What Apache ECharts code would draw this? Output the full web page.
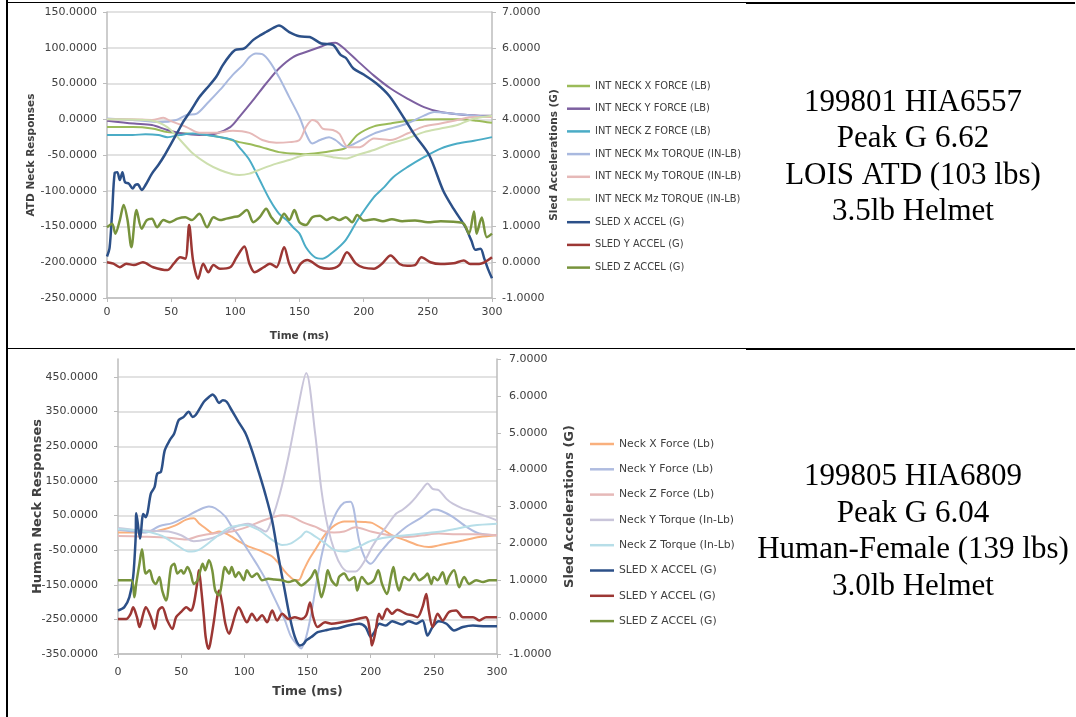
<!DOCTYPE html>
<html>
<head>
<meta charset="utf-8">
<script src="https://cdn.jsdelivr.net/npm/echarts@6/dist/echarts.min.js"></script>
<style>
  html, body { margin: 0; padding: 0; background: #fff; }
  #chart { width: 1076px; height: 717px; }
</style>
</head>
<body>
<div id="chart"></div>
<script>
// ---------- ATD test 199801 (time ms, value) ----------
// neck responses, left axis (LB / IN-LB)
const atdNeckXForce = [[0,-11],[20,-11],[35,-13],[47,-18],[62,-20],[78,-22],[93,-27],[103,-32],[114,-36],[124,-41],[134,-46],[145,-48],[155,-49],[166,-47],[176,-44],[186,-40],[195,-22],[208,-10],[221,-6],[234,-2],[247,-0.5],[260,0],[275,0],[288,-2],[300,-5]];
const atdNeckYForce = [[0,-2],[21,-6],[35,-8],[47,-15],[59,-20],[72,-22],[85,-20],[96,-11],[103,3],[114,27],[124,50],[134,71],[145,87],[155,94],[166,101],[173,106],[178,107],[182,103],[186,97],[195,82],[208,61],[221,43],[234,29],[247,17],[260,10],[273,7],[291,5],[300,5]];
const atdNeckZForce = [[0,-22],[20,-22],[30,-21],[40,-22],[47,-25],[57,-22],[67,-20],[78,-22],[88,-25],[98,-29],[103,-39],[111,-57],[119,-85],[127,-113],[134,-132],[140,-141],[145,-151],[150,-160],[155,-179],[162,-193],[168,-195],[176,-186],[186,-169],[195,-142],[208,-109],[216,-95],[223,-81],[234,-67],[247,-53],[260,-41],[273,-34],[286,-30],[300,-25]];
const atdNeckMx = [[0,1],[20,-1],[41,-4],[54,-1],[62,6],[70,8],[78,22],[88,41],[98,62],[106,76],[111,87],[116,92],[121,91],[127,80],[134,59],[142,31],[150,3],[155,-20],[160,-34],[166,-29],[173,-25],[178,-29],[186,-39],[192,-35],[208,-20],[221,-13],[234,-6],[247,5],[255,10],[268,8],[286,5],[300,3]];
const atdNeckMy = [[0,0],[20,0],[35,-1],[44,2],[49,-2],[62,-11],[72,-19],[85,-19],[98,-16],[111,-19],[121,-29],[132,-33],[142,-32],[150,-29],[155,-11],[160,-1],[164,-4],[168,-13],[176,-15],[181,-20],[188,-39],[197,-39],[208,-27],[221,-29],[234,-20],[247,-10],[260,-6],[273,-1],[286,3],[300,3]];
const atdNeckMz = [[0,0],[35,-2],[47,-11],[57,-29],[67,-48],[78,-62],[88,-71],[98,-77],[103,-78],[111,-76],[121,-69],[132,-62],[142,-57],[155,-50],[166,-50],[176,-53],[186,-55],[195,-50],[208,-43],[221,-34],[234,-27],[247,-18],[260,-13],[273,-8],[286,1],[300,5]];
// sled accelerations, right axis (G)
const atdSledX = [[0,0.16],[2,0.4],[4,1.4],[6,2.5],[8,2.52],[10,2.3],[12,2.52],[14,2.24],[17,2.2],[20,2.06],[22,2.16],[24,2.18],[27,2.02],[30,2.16],[35,2.48],[40,2.72],[45,3.0],[50,3.32],[55,3.64],[60,3.96],[66,4.28],[72,4.62],[80,4.96],[85,5.18],[90,5.5],[96,5.8],[100,5.94],[107,5.98],[114,6.22],[120,6.36],[124,6.44],[130,6.56],[134,6.62],[142,6.44],[150,6.32],[158,6.3],[167,6.12],[176,6.08],[182,5.8],[186,5.72],[192,5.42],[200,5.25],[210,5.0],[220,4.65],[232,4.0],[240,3.55],[251,3.0],[262,2.0],[270,1.5],[279,1.0],[284,0.6],[287,0.35],[291,0.38],[294,0.1],[297,-0.2],[300,-0.45]];
const atdSledY = [[0,0],[5,-0.04],[10,-0.14],[15,-0.04],[21,-0.08],[28,0],[36,-0.14],[47,-0.22],[52,-0.04],[57,0.14],[61,0.1],[64,1.04],[67,0.06],[71,-0.46],[75,-0.04],[79,-0.28],[83,-0.08],[88,-0.18],[96,-0.14],[101,0.14],[107,0.44],[111,-0.04],[115,-0.28],[122,-0.14],[127,-0.04],[132,-0.14],[138,0.42],[142,-0.04],[146,-0.3],[151,-0.04],[156,0.06],[166,-0.14],[173,-0.18],[181,-0.08],[187,0.28],[194,-0.04],[200,-0.15],[208,-0.18],[214,-0.05],[221,0.19],[228,-0.05],[234,-0.1],[240,-0.08],[245,0.14],[252,0],[260,-0.05],[270,-0.03],[278,0.05],[283,-0.05],[290,-0.05],[300,0.14]];
const atdSledZ = [[0,0.98],[4,1.08],[6.5,0.8],[10,1.18],[13,1.6],[16,1.18],[19,0.42],[23,1.46],[27,0.94],[31,1.18],[35,1.22],[39,0.98],[44,1.18],[49,1.12],[55,1.22],[61,1.26],[66,1.18],[72,1.36],[78,0.98],[83,1.26],[88,1.18],[93,1.22],[98,1.26],[103,1.3],[109,1.46],[114,1.12],[119,1.26],[124,1.5],[128,1.26],[133,1.08],[138,1.36],[142,1.18],[146,1.46],[150,1.12],[155,1.04],[160,1.26],[166,1.3],[171,1.18],[176,1.26],[181,1.18],[186,1.26],[191,1.12],[195,1.32],[200,1.17],[208,1.2],[215,1.15],[222,1.2],[230,1.15],[240,1.17],[250,1.12],[260,1.15],[270,1.13],[278,1.08],[282,0.8],[286,1.42],[288,0.8],[292,1.25],[296,0.7],[300,0.8]];

// ---------- Human test 199805 (time ms, value) ----------
const humNeckXForce = [[0,0],[15,0],[25,2],[35,8],[45,20],[54,37],[60,41],[64,27],[69,13],[75,-2],[80,3],[85,-2],[90,-12],[96,-26],[103,-40],[111,-50],[117,-60],[122,-69],[127,-88],[132,-112],[136,-127],[140,-137],[143,-137],[147,-108],[151,-79],[156,-50],[161,-21],[166,3],[172,22],[179,32],[187,32],[196,30],[201,28],[209,11],[217,-8],[228,-23],[238,-37],[246,-42],[254,-37],[262,-31],[273,-23],[286,-13],[300,-8]];
const humNeckYForce = [[0,8],[12,3],[22,0],[33,19],[43,27],[54,46],[64,65],[72,75],[77,70],[85,46],[90,17],[96,-11],[101,-40],[106,-69],[111,-98],[117,-136],[122,-175],[127,-213],[132,-252],[137,-300],[143,-329],[145,-334],[149,-300],[153,-233],[157,-146],[161,-69],[165,-11],[169,27],[174,65],[179,86],[184,89],[191,-26],[196,-77],[200,-90],[207,-60],[215,-26],[228,16],[241,45],[250,66],[256,62],[265,45],[276,16],[286,-3],[300,-8]];
const humNeckZForce = [[0,-10],[20,-12],[40,-15],[54,-20],[64,-10],[77,-2],[90,3],[103,17],[116,36],[130,50],[137,46],[148,27],[156,17],[164,3],[171,0],[179,3],[188,15],[201,2],[215,-8],[228,-13],[241,-8],[254,-3],[268,-5],[281,-5],[300,-8]];
const humNeckYTorque = [[0,13],[12,8],[25,5],[40,3],[50,-8],[60,-25],[70,-20],[80,-8],[92,15],[103,25],[112,12],[117,3],[122,40],[128,110],[135,220],[142,350],[149,460],[156,287],[161,123],[166,17],[172,-60],[177,-98],[182,-112],[188,-112],[196,-77],[201,-42],[207,-8],[212,15],[220,54],[225,65],[231,83],[236,103],[241,126],[245,141],[249,126],[254,122],[260,97],[265,83],[273,69],[281,60],[289,50],[300,35]];
const humNeckZTorque = [[0,10],[22,3],[35,-10],[48,-40],[56,-55],[64,-50],[75,-21],[85,8],[90,17],[101,22],[111,8],[122,-21],[130,-36],[137,-31],[145,-11],[149,3],[156,-11],[164,-31],[171,-50],[179,-55],[188,-45],[201,-23],[215,-13],[228,-8],[241,-3],[254,2],[268,11],[281,20],[300,25]];
const humSledX = [[0,0.18],[5,0.27],[9,0.54],[12,1.09],[14,2.17],[14.5,2.82],[17.5,2.13],[20,2.8],[22,2.71],[23.5,2.85],[26,3.35],[29,3.53],[31,3.89],[34,3.94],[37,4.52],[41,4.8],[44.5,4.98],[48,5.34],[52,5.43],[56,5.57],[59,5.43],[61.5,5.48],[65.5,5.7],[68,5.84],[72,5.97],[75,6.04],[77,5.97],[80,5.81],[83,5.88],[86,5.84],[90,5.61],[95.5,5.29],[101,4.98],[106,4.52],[111,3.98],[116.5,3.35],[122,2.62],[127,1.63],[132,0.72],[136,0],[140,-0.54],[144,-0.77],[147,-0.72],[149,-0.63],[153,-0.54],[158,-0.41],[164,-0.36],[169,-0.32],[174,-0.3],[183,-0.22],[191,-0.18],[196,-0.27],[200,-0.54],[203,-0.4],[207,-0.18],[212,-0.23],[217,-0.11],[225,-0.2],[230,-0.11],[236,-0.18],[241,-0.09],[245,-0.5],[249,-0.27],[254,-0.11],[260,-0.18],[266,-0.36],[273,-0.27],[281,-0.23],[291,-0.25],[300,-0.25]];
const humSledY = [[0,-0.05],[6.5,-0.05],[10,0.09],[12,0.27],[15,0],[17,-0.27],[20,0.09],[22,0.27],[26,0],[29,-0.32],[32,0.18],[35,0.27],[39,-0.09],[43,-0.32],[46,0],[50,0.14],[54,0.27],[57.6,0.18],[60,0.36],[63,1.0],[64,1.27],[66,0.72],[68,0],[69.4,-0.54],[71.5,-0.86],[73,-0.72],[76,-0.09],[78.5,0.54],[80,0.72],[82.5,0.36],[85,-0.18],[88,-0.45],[90,-0.27],[93,0.09],[95.5,0.27],[99.5,0],[102,-0.14],[106,0.09],[110,-0.09],[114,0.05],[118,-0.14],[122,0.18],[126,-0.09],[130,0.09],[135,-0.05],[140,0],[145,-0.05],[149,0.05],[152,0.4],[154.5,0],[158,-0.27],[164,-0.14],[169,-0.18],[177,-0.14],[185,-0.09],[196,0],[200,-0.54],[201,-0.77],[203.5,-0.45],[206.6,0.09],[209,-0.05],[213,0.23],[217,0.09],[221,0.2],[228,0.09],[233,0.05],[237,0],[241,0.27],[244,0.63],[246,0.18],[249,-0.27],[253,0.09],[257,-0.09],[262,0.14],[267.6,0.18],[273,0],[281,0],[286,-0.09],[291.5,0],[300,0]];
const humSledZ = [[0,1.0],[10.5,1.0],[13,0.54],[14.4,0.9],[17,1.45],[19,1.84],[22,1.18],[25,1.27],[27.5,1.0],[30,0.9],[32.7,1.09],[35,0.72],[38,0.45],[42,1.36],[44.5,1.45],[47,1.18],[50,1.27],[52,1.18],[55,1.36],[57.6,1.18],[60,0.9],[63,1.0],[65.5,1.31],[67,1.45],[69,1.27],[72,1.54],[74.6,1.27],[77,0.72],[80,0.59],[82.5,1.0],[84.5,1.36],[88,1.18],[90,1.36],[93,1.09],[95.5,1.22],[99.5,1.0],[102,1.27],[106,1.09],[110,1.18],[114,1.0],[119,1.04],[124,1.02],[130,1.0],[135,0.95],[140,1.0],[145,0.86],[149,0.95],[153,1.09],[156,1.27],[158,1.04],[161,0.54],[164,0.9],[166,1.27],[169,1.0],[173,0.86],[175,1.09],[179,1.18],[183,1.0],[187,1.09],[189.4,0.72],[193,1.09],[198,0.9],[202.6,1.0],[206,1.27],[209,0.9],[213,0.63],[216,1.09],[218,1.36],[220,1.0],[222.5,0.72],[226.5,1.09],[230.5,1.0],[234.5,1.18],[238.5,1.0],[242.5,1.09],[245,1.18],[248,0.9],[250,1.09],[253,1.0],[257,1.22],[260,0.9],[262,1.09],[266,1.27],[270,0.81],[274,1.09],[278,0.9],[283.5,1.0],[289,0.95],[294,1.0],[300,1.0]];

// ---------- legend names, notes ----------
const atdNames = ['INT NECK X FORCE (LB)', 'INT NECK Y FORCE (LB)', 'INT NECK Z FORCE (LB)', 'INT NECK Mx TORQUE (IN-LB)', 'INT NECK My TORQUE (IN-LB)', 'INT NECK Mz TORQUE (IN-LB)', 'SLED X ACCEL (G)', 'SLED Y ACCEL (G)', 'SLED Z ACCEL (G)'];
const humNames = ['Neck X Force (Lb)', 'Neck Y Force (Lb)', 'Neck Z Force (Lb)', 'Neck Y Torque (In-Lb)', 'Neck Z Torque (In-Lb)', 'SLED X ACCEL (G)', 'SLED Y ACCEL (G)', 'SLED Z ACCEL (G)'];
const atdNote = ['199801 HIA6557', 'Peak G 6.62', 'LOIS ATD (103 lbs)', '3.5lb Helmet'];
const humNote = ['199805 HIA6809', 'Peak G 6.04', 'Human-Female (139 lbs)', '3.0lb Helmet'];

const FONT = 'DejaVu Sans';
const LABEL = '#404040';
const AXIS = '#bcbcbc';
const GRID = '#d9d9d9';
const fmt4 = v => v.toFixed(4);

function line(name, data, color, width, xi, yi) {
  return {
    type: 'line', name, data, xAxisIndex: xi, yAxisIndex: yi,
    showSymbol: false, symbol: 'none', smooth: 0.3, clip: false,
    lineStyle: { color, width }, itemStyle: { color },
    emphasis: { disabled: true }, z: 3
  };
}

function xAxisDef(grid, labelMargin, nameGap, nameSize) {
  return {
    type: 'value', gridIndex: grid, min: 0, max: 300, interval: 50,
    axisLine: { show: true, onZero: false, lineStyle: { color: AXIS, width: 1.5 } },
    axisTick: { show: true, length: 4, lineStyle: { color: AXIS } },
    axisLabel: { color: LABEL, fontSize: 11, fontFamily: FONT, margin: labelMargin },
    splitLine: { show: false },
    name: 'Time (ms)', nameLocation: 'middle', nameGap,
    nameTextStyle: { color: LABEL, fontWeight: 'bold', fontSize: nameSize, fontFamily: FONT }
  };
}

const option = {
  animation: false,
  textStyle: { fontFamily: FONT },
  grid: [
    { left: 107, top: 12, width: 385, height: 286, containLabel: false, outerBoundsMode: 'none' },
    { left: 118, top: 377, width: 379, height: 277, containLabel: false, outerBoundsMode: 'none' },
    { left: 118, top: 359, width: 379, height: 295, containLabel: false, outerBoundsMode: 'none' }
  ],
  xAxis: [
    xAxisDef(0, 9, 33, 10.5),
    Object.assign(xAxisDef(1, 9, 30, 10), { show: false }),
    xAxisDef(2, 13, 31, 12.5)
  ],
  yAxis: [
    { // ATD neck responses
      type: 'value', gridIndex: 0, position: 'left', min: -250, max: 150, interval: 50,
      axisLine: { show: true, lineStyle: { color: AXIS, width: 1.5 } },
      axisTick: { show: true, length: 4, lineStyle: { color: AXIS } },
      axisLabel: { color: LABEL, fontSize: 11, fontFamily: FONT, margin: 10, formatter: fmt4 },
      splitLine: { show: true, lineStyle: { color: GRID, width: 1.5 } },
      name: 'ATD Neck Responses', nameLocation: 'middle', nameGap: 63, nameRotate: 90,
      nameTextStyle: { color: LABEL, fontWeight: 'bold', fontSize: 10.5, fontFamily: FONT }
    },
    { // ATD sled accelerations
      type: 'value', gridIndex: 0, position: 'right', min: -1, max: 7, interval: 1,
      axisLine: { show: true, lineStyle: { color: AXIS, width: 1.5 } },
      axisTick: { show: true, length: 4, lineStyle: { color: AXIS } },
      axisLabel: { color: LABEL, fontSize: 11, fontFamily: FONT, margin: 10, formatter: fmt4 },
      splitLine: { show: false },
      name: 'Sled Accelerations (G)', nameLocation: 'middle', nameGap: 53, nameRotate: 90,
      nameTextStyle: { color: LABEL, fontWeight: 'bold', fontSize: 10.5, fontFamily: FONT }
    },
    { // human neck responses: labels and gridlines
      type: 'value', gridIndex: 1, position: 'left', min: -350, max: 450, interval: 100,
      axisLine: { show: false },
      axisTick: { show: true, length: 4, lineStyle: { color: AXIS } },
      axisLabel: { color: LABEL, fontSize: 11, fontFamily: FONT, margin: 20, formatter: fmt4 },
      splitLine: { show: true, lineStyle: { color: GRID, width: 1.5 } }
    },
    { // human neck responses: full-height scale the curves are drawn on
      type: 'value', gridIndex: 2, position: 'left', min: -350, max: 500, interval: 50,
      axisLine: { show: true, lineStyle: { color: AXIS, width: 1.5 } },
      axisTick: { show: false }, axisLabel: { show: false }, splitLine: { show: false },
      name: 'Human Neck Responses', nameLocation: 'middle', nameGap: 74, nameRotate: 90,
      nameTextStyle: { color: LABEL, fontWeight: 'bold', fontSize: 13, fontFamily: FONT }
    },
    { // human sled accelerations
      type: 'value', gridIndex: 2, position: 'right', min: -1, max: 7, interval: 1,
      axisLine: { show: true, lineStyle: { color: AXIS, width: 1.5 } },
      axisTick: { show: true, length: 4, lineStyle: { color: AXIS } },
      axisLabel: { color: LABEL, fontSize: 11, fontFamily: FONT, margin: 12, formatter: fmt4 },
      splitLine: { show: false },
      name: 'Sled Accelerations (G)', nameLocation: 'middle', nameGap: 66, nameRotate: 90,
      nameTextStyle: { color: LABEL, fontWeight: 'bold', fontSize: 13, fontFamily: FONT }
    }
  ],
  legend: [
    {
      data: atdNames, orient: 'vertical', left: 567, top: 79, padding: 0,
      icon: 'rect', itemWidth: 23, itemHeight: 2.5, itemGap: 8.7, selectedMode: false,
      textStyle: { color: LABEL, fontSize: 9.9, fontFamily: FONT, lineHeight: 14,
                   width: 150, overflow: 'truncate', ellipsis: '' }
    },
    {
      data: humNames, orient: 'vertical', left: 590, top: 437, padding: 0,
      icon: 'rect', itemWidth: 24, itemHeight: 2.5, itemGap: 11.3, selectedMode: false,
      textStyle: { color: LABEL, fontSize: 10.8, fontFamily: FONT, lineHeight: 14 }
    }
  ],
  series: [
    line(atdNames[0], atdNeckXForce, '#9bbb59', 2, 0, 0),
    line(atdNames[1], atdNeckYForce, '#7d60a0', 2, 0, 0),
    line(atdNames[2], atdNeckZForce, '#4bacc6', 2, 0, 0),
    line(atdNames[3], atdNeckMx, '#a9b9df', 2, 0, 0),
    line(atdNames[4], atdNeckMy, '#e6b9b8', 2, 0, 0),
    line(atdNames[5], atdNeckMz, '#cddfae', 2, 0, 0),
    line(atdNames[6], atdSledX, '#2c5088', 2.5, 0, 1),
    line(atdNames[7], atdSledY, '#9c3734', 2.5, 0, 1),
    line(atdNames[8], atdSledZ, '#77933c', 2.5, 0, 1),

    line(humNames[0], humNeckXForce, '#f9b07d', 2, 2, 3),
    line(humNames[1], humNeckYForce, '#afbce0', 2, 2, 3),
    line(humNames[2], humNeckZForce, '#e6b9b8', 2, 2, 3),
    line(humNames[3], humNeckYTorque, '#c9c5da', 2, 2, 3),
    line(humNames[4], humNeckZTorque, '#b7dee8', 2, 2, 3),
    line(humNames[5], humSledX, '#2c5088', 2.5, 2, 4),
    line(humNames[6], humSledY, '#9c3734', 2.5, 2, 4),
    line(humNames[7], humSledZ, '#77933c', 2.5, 2, 4)
  ],
  graphic: [
    // table rules
    { type: 'line', shape: { x1: 7, y1: 0, x2: 7, y2: 717 }, style: { stroke: '#000', lineWidth: 2 } },
    { type: 'line', shape: { x1: 6, y1: 2.5, x2: 746, y2: 2.5 }, style: { stroke: '#000', lineWidth: 1 } },
    { type: 'line', shape: { x1: 746, y1: 3, x2: 1075, y2: 3 }, style: { stroke: '#000', lineWidth: 2 } },
    { type: 'line', shape: { x1: 6, y1: 348.5, x2: 746, y2: 348.5 }, style: { stroke: '#000', lineWidth: 1 } },
    { type: 'line', shape: { x1: 746, y1: 349, x2: 1075, y2: 349 }, style: { stroke: '#000', lineWidth: 2 } },
    // test descriptions
    { type: 'text', x: 913, y: 157.5,
      style: { text: atdNote.join('\n'), font: '31px "Liberation Serif"', fill: '#000',
               align: 'center', verticalAlign: 'middle', lineHeight: 36.5 } },
    { type: 'text', x: 913, y: 532,
      style: { text: humNote.join('\n'), font: '31px "Liberation Serif"', fill: '#000',
               align: 'center', verticalAlign: 'middle', lineHeight: 36.5 } }
  ]
};

const chart = echarts.init(document.getElementById('chart'), null, { renderer: 'canvas' });
chart.setOption(option);
</script>
</body>
</html>
